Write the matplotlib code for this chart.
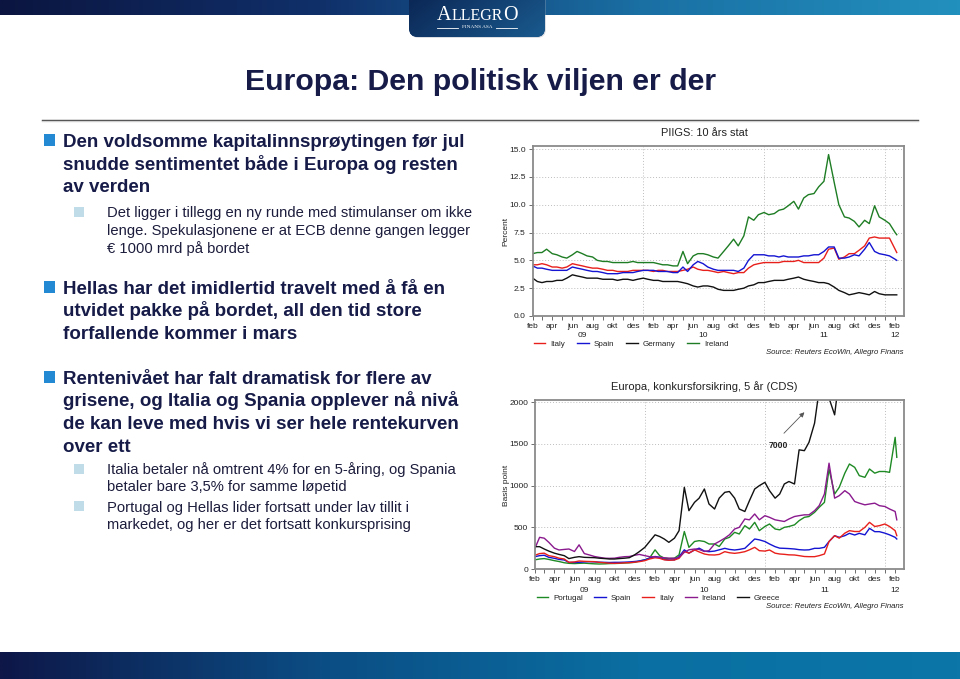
import numpy as np
import pandas as pd
import matplotlib
matplotlib.use("Agg")
import matplotlib.pyplot as plt
import matplotlib.dates as mdates
import matplotlib.transforms as mtrans
from matplotlib.colors import LinearSegmentedColormap
from matplotlib.patches import Rectangle, FancyBboxPatch
from matplotlib.lines import Line2D
from matplotlib.ticker import FuncFormatter, FixedLocator

plt.rcParams['font.family'] = ['Liberation Sans', 'DejaVu Sans']

# ---------------- data ----------------
dates = list(pd.date_range('2009-02-01', '2012-02-01', freq='SMS')) + [pd.Timestamp('2012-02-06')]

# PIIGS 10y government yields (percent)
bond_italy = [4.6, 4.6, 4.7, 4.6, 4.4, 4.4, 4.3, 4.4, 4.7, 4.6, 4.5, 4.4, 4.3, 4.3, 4.2, 4.1, 4.1, 4.0, 4.0, 4.0, 4.1, 4.1,
              4.1, 4.1, 4.0, 4.1, 4.1, 4.0, 4.0, 4.0, 4.1, 4.2, 4.4, 4.2, 4.1, 4.1, 4.0, 3.9, 4.0, 3.9, 3.8, 3.9, 3.9, 4.3, 4.6, 4.7,
              4.8, 4.8, 4.8, 4.8, 4.9, 4.9, 4.9, 5.0, 4.8, 4.8, 4.8, 4.8, 5.2, 6.0, 6.1, 5.1, 5.3, 5.6, 5.6, 5.9, 6.3, 7.0, 7.1, 7.0,
              7.0, 7.0, 6.0, 5.7]
bond_spain = [4.5, 4.3, 4.3, 4.2, 4.1, 4.1, 4.1, 4.1, 4.4, 4.3, 4.2, 4.1, 4.0, 4.0, 3.9, 3.8, 3.8, 3.8, 3.9, 3.9, 3.9, 4.0,
              4.1, 4.1, 4.1, 4.0, 4.0, 4.0, 3.9, 3.9, 4.4, 4.0, 4.6, 4.9, 4.7, 4.4, 4.2, 4.1, 4.1, 4.1, 4.1, 4.0, 4.3, 5.0, 5.5, 5.5,
              5.5, 5.4, 5.4, 5.3, 5.4, 5.3, 5.3, 5.3, 5.4, 5.4, 5.5, 5.5, 5.8, 6.2, 6.2, 5.2, 5.2, 5.3, 5.5, 5.4, 6.0, 6.6, 5.8, 5.6,
              5.5, 5.4, 5.1, 5.0]
bond_germany = [3.4, 3.1, 3.0, 3.1, 3.1, 3.2, 3.2, 3.4, 3.7, 3.6, 3.5, 3.4, 3.4, 3.4, 3.3, 3.3, 3.3, 3.2, 3.3, 3.3, 3.2, 3.3,
                3.4, 3.3, 3.2, 3.2, 3.1, 3.1, 3.1, 3.1, 3.0, 2.9, 2.7, 2.6, 2.7, 2.7, 2.6, 2.4, 2.3, 2.3, 2.3, 2.4, 2.5, 2.7, 2.8, 3.0,
                3.0, 3.1, 3.2, 3.2, 3.2, 3.3, 3.4, 3.5, 3.3, 3.2, 3.1, 3.0, 3.0, 2.9, 2.6, 2.3, 2.1, 1.9, 2.0, 2.1, 2.0, 1.9, 2.2, 2.0,
                1.9, 1.9, 1.9, 1.9]
bond_ireland = [5.6, 5.7, 5.7, 6.0, 5.6, 5.5, 5.3, 5.2, 5.5, 5.8, 5.6, 5.4, 5.3, 5.0, 4.9, 4.9, 4.8, 4.8, 4.8, 4.8, 4.9, 4.8,
                4.8, 4.8, 4.8, 4.7, 4.6, 4.6, 4.5, 4.5, 5.8, 4.7, 5.4, 5.6, 5.6, 5.5, 5.3, 5.2, 5.8, 6.3, 6.9, 6.3, 7.2, 8.9, 8.6, 9.1,
                9.3, 9.1, 9.2, 9.5, 9.6, 9.9, 10.3, 9.6, 10.6, 10.9, 11.0, 11.6, 12.1, 14.5, 12.0, 10.0, 8.9, 8.8, 8.5, 8.0, 8.6, 8.3, 9.9, 8.9,
                8.6, 8.3, 7.5, 7.3]

# 5y CDS (basis points)
cds_portugal = [110, 120, 125, 115, 100, 90, 75, 68, 65, 68, 70, 66, 62, 60, 62, 65, 66, 68, 72, 75, 80, 95,
                110, 130, 230, 160, 130, 125, 130, 170, 450, 260, 330, 340, 330, 300, 300, 270, 360, 380, 440, 420, 520, 480, 560, 460,
                510, 540, 480, 470, 500, 510, 530, 580, 620, 630, 680, 740, 800, 1200, 900, 980, 1150, 1260, 1220, 1120, 1100, 1200, 1150, 1170,
                1170, 1160, 1580, 1340]
cds_spain = [148, 160, 165, 140, 128, 115, 108, 80, 78, 80, 85, 88, 85, 82, 80, 78, 80, 80, 82, 85, 90, 96,
             110, 130, 150, 140, 115, 108, 110, 148, 230, 190, 228, 250, 215, 208, 215, 230, 248, 235, 228, 235, 248, 300, 360, 350,
             330, 300, 268, 250, 248, 245, 240, 232, 228, 230, 248, 248, 260, 330, 400, 380, 400, 428, 408, 428, 410, 488, 448, 448,
             430, 410, 380, 360]
cds_italy = [165, 185, 190, 160, 148, 130, 120, 80, 85, 96, 92, 90, 88, 80, 75, 70, 68, 70, 74, 76, 82, 88,
             100, 120, 135, 128, 110, 105, 108, 128, 210, 190, 230, 205, 180, 170, 168, 175, 208, 195, 188, 195, 208, 230, 260, 220,
             215, 228, 190, 180, 176, 170, 168, 160, 150, 148, 148, 160, 180, 330, 400, 370, 430, 460, 450, 450, 500, 560, 510, 520,
             540, 510, 460, 400]
cds_ireland = [250, 380, 370, 320, 250, 228, 235, 240, 210, 290, 185, 170, 150, 140, 130, 128, 130, 140, 148, 150, 165, 175,
               160, 148, 145, 140, 135, 130, 128, 140, 200, 230, 240, 235, 210, 220, 300, 330, 370, 410, 480, 500, 600, 590, 660, 590,
               640, 620, 590, 580, 570, 600, 630, 640, 650, 650, 700, 760, 900, 1270, 850, 880, 940, 900, 810, 790, 770, 780, 790, 760,
               750, 720, 690, 590]
cds_greece = [268, 268, 240, 215, 190, 175, 160, 125, 140, 148, 140, 138, 136, 130, 125, 120, 120, 125, 130, 136, 170, 208,
              260, 328, 410, 390, 360, 320, 370, 460, 980, 700, 800, 850, 960, 780, 720, 850, 920, 930, 850, 720, 690, 820, 960, 1000,
              1040, 940, 850, 900, 1020, 1050, 1020, 1430, 1420, 1520, 1750, 2150, 2300, 2050, 1850, 2300, 3000, 4500, 5000, 5500, 5600, 6000, 6500, 7000,
              7500, 8000, 7000, 7000]

month_labels = {2: 'feb', 4: 'apr', 6: 'jun', 8: 'aug', 10: 'okt', 12: 'des'}
year_labels = [('2009-07-01', '09'), ('2010-07-01', '10'), ('2011-07-01', '11'), ('2012-02-01', '12')]
bond_ticks = [0, 2.5, 5.0, 7.5, 10.0, 12.5, 15.0]
cds_ticks = [0, 500, 1000, 1500, 2000]

# ---------------- figure ----------------
W, H = 960, 679
fig = plt.figure(figsize=(9.6, 6.79), dpi=100)
fig.patch.set_facecolor('white')
renderer = fig.canvas.get_renderer()


def fx(x):
    return x / W


def fy(y):
    return 1 - y / H


def gradient_bar(y0, y1, colors):
    ax = fig.add_axes([0, fy(y1), 1, (y1 - y0) / H])
    cmap = LinearSegmentedColormap.from_list('g', colors)
    ax.imshow(np.linspace(0, 1, 512)[None, :], aspect='auto', cmap=cmap, extent=[0, 1, 0, 1])
    ax.set_axis_off()
    return ax


gradient_bar(0, 15, ['#0b1540', '#10306a', '#1a6fa3', '#2290bd'])
gradient_bar(652, 679, ['#0e1748', '#0b4d84', '#0a6fa2', '#0c76a8'])

# logo tab
lax = fig.add_axes([fx(400), fy(44), 150 / W, 44 / H])
lax.set_xlim(400, 550)
lax.set_ylim(44, 0)
lax.set_axis_off()
shadow = FancyBboxPatch((410, -12), 136, 50, boxstyle='round,pad=0,rounding_size=9',
                        facecolor='#9aa4b4', edgecolor='none', alpha=0.35)
lax.add_patch(shadow)
tab = FancyBboxPatch((409, -12), 136, 49, boxstyle='round,pad=0,rounding_size=9',
                     facecolor='#123d6f', edgecolor='none')
lax.add_patch(tab)
gx = np.linspace(0, 1, 200)[None, :] * 0.7 + np.linspace(0, 1, 50)[:, None] * 0.3
im = lax.imshow(gx, extent=[409, 545, 37, -12], aspect='auto',
                cmap=LinearSegmentedColormap.from_list('t', ['#0a2452', '#1a5a8e']), zorder=2)
im.set_clip_path(tab)
serif = ['Liberation Serif', 'DejaVu Serif']
logo_parts = [('A', 14.5), ('LLEGR', 11.5), ('O', 14.5)]
logo_texts = [lax.text(0, 20, s, fontsize=fs, color='white', family=serif, ha='left',
                       va='baseline', zorder=3) for s, fs in logo_parts]
widths = [t.get_window_extent(renderer).width for t in logo_texts]
xpos = 477 - sum(widths) / 2
for t, w in zip(logo_texts, widths):
    t.set_x(xpos)
    xpos += w
lax.text(477, 27.5, 'FINANS ASA', color='white', family=serif,
         fontsize=3.8, ha='center', va='center', zorder=3)
lax.plot([437, 458], [27.5, 27.5], color='white', lw=0.6, zorder=3)
lax.plot([496, 517], [27.5, 27.5], color='white', lw=0.6, zorder=3)

# title
NAVY = '#161b48'
fig.text(fx(481), fy(90.5), 'Europa: Den politisk viljen er der', fontsize=21.8, weight='bold',
         color=NAVY, ha='center', va='baseline')
fig.add_artist(Line2D([fx(42), fx(918)], [fy(119.5), fy(119.5)], color='#3a3a3a', lw=1.0))
fig.add_artist(Line2D([fx(42), fx(918)], [fy(121), fy(121)], color='#d0d0d0', lw=1.0))

# bullet text
MAIN_FS = 13.5
SUB_FS = 10.6
BLUE = '#2289d2'
LIGHT = '#bfdce8'
SUBCOL = '#1c1c3c'


def main_bullet(y_top):
    fig.add_artist(Rectangle((fx(43.5), fy(y_top + 11.5)), 11.5 / W, 11.5 / H,
                             transform=fig.transFigure, facecolor=BLUE, edgecolor='none'))


def sub_bullet(y_top):
    fig.add_artist(Rectangle((fx(73.5), fy(y_top + 10)), 10 / W, 10 / H,
                             transform=fig.transFigure, facecolor=LIGHT, edgecolor='none'))


def main_lines(lines, baselines):
    for s, b in zip(lines, baselines):
        fig.text(fx(63), fy(b), s, fontsize=MAIN_FS, weight='bold', color=NAVY, va='baseline', ha='left')


def sub_lines(lines, baselines):
    for s, b in zip(lines, baselines):
        fig.text(fx(107), fy(b), s, fontsize=SUB_FS, color=SUBCOL, va='baseline', ha='left')


main_bullet(134.5)
main_lines(['Den voldsomme kapitalinnsprøytingen før jul',
            'snudde sentimentet både i Europa og resten',
            'av verden'], [147.3, 170, 192.5])
sub_bullet(206.5)
sub_lines(['Det ligger i tillegg en ny runde med stimulanser om ikke',
           'lenge. Spekulasjonene er at ECB denne gangen legger',
           '€ 1000 mrd på bordet'], [216.7, 235, 252.5])

main_bullet(281)
main_lines(['Hellas har det imidlertid travelt med å få en',
            'utvidet pakke på bordet, all den tid store',
            'forfallende kommer i mars'], [294, 316.5, 339])

main_bullet(371)
main_lines(['Rentenivået har falt dramatisk for flere av',
            'grisene, og Italia og Spania opplever nå nivå',
            'de kan leve med hvis vi ser hele rentekurven',
            'over ett'], [384, 406.5, 429, 451.5])
sub_bullet(463.5)
sub_lines(['Italia betaler nå omtrent 4% for en 5-åring, og Spania',
           'betaler bare 3,5% for samme løpetid'], [474, 491.5])
sub_bullet(501)
sub_lines(['Portugal og Hellas lider fortsatt under lav tillit i',
           'markedet, og her er det fortsatt konkursprising'], [511.7, 529])

# ---------------- charts ----------------
CH_FS = 6.0
LEG_FS = 5.8
TXT = '#222222'
SPINE = '#8a8a8a'
xmin, xmax = pd.Timestamp('2009-02-01'), pd.Timestamp('2012-02-27')


def setup(ax, yticks, ylim, yfmt, year_y):
    ax.set_xlim(xmin, xmax)
    ax.set_ylim(*ylim)
    ax.xaxis.set_major_locator(mdates.MonthLocator(bymonth=[2, 4, 6, 8, 10, 12]))
    ax.xaxis.set_minor_locator(mdates.MonthLocator())
    ax.xaxis.set_major_formatter(FuncFormatter(lambda v, p: month_labels.get(mdates.num2date(v).month, '')))
    ax.yaxis.set_major_locator(FixedLocator(yticks))
    ax.yaxis.set_major_formatter(FuncFormatter(yfmt))
    ax.tick_params(axis='both', which='both', labelsize=CH_FS, colors=TXT, direction='out',
                   length=3, width=0.6, pad=2)
    ax.tick_params(axis='x', which='both', color='#555555')
    ax.tick_params(axis='y', color='#555555')
    for sp in ax.spines.values():
        sp.set_color(SPINE)
        sp.set_linewidth(1.3)
    ax.yaxis.grid(True, linestyle=(0, (1, 2)), color='#bdbdbd', lw=0.7)
    for yr in ['2010-01-01', '2011-01-01', '2012-01-01']:
        ax.axvline(pd.Timestamp(yr), linestyle=(0, (1, 2)), color='#bdbdbd', lw=0.7, zorder=0)
    tr = mtrans.blended_transform_factory(ax.transData, ax.transAxes)
    for d, lab in year_labels:
        ax.text(pd.Timestamp(d), year_y, lab, transform=tr, fontsize=CH_FS, color=TXT,
                ha='center', va='center')


# chart 1: PIIGS 10y
ax1 = fig.add_axes([fx(532.7), fy(316), (903.7 - 532.7) / W, (316 - 146) / H])
setup(ax1, bond_ticks, (0, 15.27), lambda v, p: f'{v:.1f}', (316 - 335.5) / 170)
series1 = [('Italy', bond_italy, '#e8201c'), ('Spain', bond_spain, '#1414d2'),
           ('Germany', bond_germany, '#111111'), ('Ireland', bond_ireland, '#1e7d24')]
for name, vals, col in series1:
    ax1.plot(dates, vals, color=col, lw=1.0, label=name)
fig.text(fx(704), fy(133.5), 'PIIGS: 10 års stat', fontsize=7.9, color=TXT, ha='center', va='center')
fig.text(fx(506), fy(231), 'Percent', fontsize=CH_FS, color=TXT, rotation=90, ha='center', va='center')
leg1 = ax1.legend(loc='center left', bbox_to_anchor=(fx(533.5), fy(344)), bbox_transform=fig.transFigure,
                  ncol=4, frameon=False, fontsize=LEG_FS, handlelength=1.45, handletextpad=0.6,
                  columnspacing=1.5, borderpad=0, borderaxespad=0)
for t in leg1.get_texts():
    t.set_color(TXT)
fig.text(fx(903), fy(353), 'Source: Reuters EcoWin, Allegro Finans', fontsize=5.6, style='italic',
         color=TXT, ha='right', va='center')

# chart 2: CDS
ax2 = fig.add_axes([fx(535), fy(569), (903.7 - 535) / W, (569 - 400) / H])
setup(ax2, cds_ticks, (0, 2028), lambda v, p: f'{v:.0f}', (569 - 590) / 169)
series2 = [('Portugal', cds_portugal, '#1e8a24'), ('Spain', cds_spain, '#1414d2'),
           ('Italy', cds_italy, '#e8201c'), ('Ireland', cds_ireland, '#8a1a8e'),
           ('Greece', cds_greece, '#111111')]
for name, vals, col in series2:
    ax2.plot(dates, vals, color=col, lw=1.0, label=name)
ax2.annotate('', xy=(pd.Timestamp('2011-05-07'), 1905), xytext=(pd.Timestamp('2011-02-22'), 1605),
             arrowprops=dict(arrowstyle='-|>', color='#555555', lw=0.6, mutation_scale=7))
ax2.text(pd.Timestamp('2011-02-10'), 1485, '7000', fontsize=6.2, weight='bold', color=TXT,
         ha='center', va='center')
fig.text(fx(704), fy(387), 'Europa, konkursforsikring, 5 år (CDS)', fontsize=8.0, color=TXT,
         ha='center', va='center')
fig.text(fx(506), fy(485), 'Basis point', fontsize=CH_FS, color=TXT, rotation=90, ha='center', va='center')
leg2 = ax2.legend(loc='center left', bbox_to_anchor=(fx(536.5), fy(598)), bbox_transform=fig.transFigure,
                  ncol=5, frameon=False, fontsize=LEG_FS, handlelength=1.45, handletextpad=0.6,
                  columnspacing=1.4, borderpad=0, borderaxespad=0)
for t in leg2.get_texts():
    t.set_color(TXT)
fig.text(fx(903), fy(606.5), 'Source: Reuters EcoWin, Allegro Finans', fontsize=5.6, style='italic',
         color=TXT, ha='right', va='center')

fig.savefig('out.png', dpi=100)
